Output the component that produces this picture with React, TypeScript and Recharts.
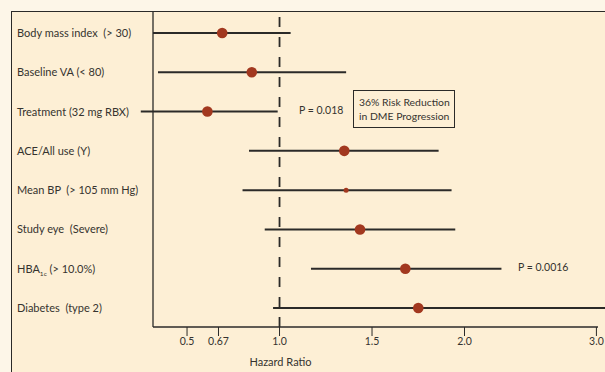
import React from "react";
import { ScatterChart, Scatter, XAxis, YAxis, ReferenceLine, Label } from "recharts";

const factors = [
  "Body mass index  (> 30)",
  "Baseline VA (< 80)",
  "Treatment (32 mg RBX)",
  "ACE/All use (Y)",
  "Mean BP  (> 105 mm Hg)",
  "Study eye  (Severe)",
  "HBA1c (> 10.0%)",
  "Diabetes  (type 2)",
];
const hazard = [0.69, 0.85, 0.61, 1.35, 1.36, 1.435, 1.68, 1.75];
const lower = [0.316, 0.343, 0.25, 0.835, 0.8, 0.92, 1.17, 0.965];
const upper = [1.06, 1.36, 0.99, 1.86, 1.93, 1.95, 2.28, 3.3];
const tickLabels = [0.5, 0.67, 1.0, 1.5, 2.0, 3.0];

// the axis is linear up to 2.0 and compressed above it
const toPos = (v: number) => (v <= 2 ? v : 2 + (v - 2) * 0.713);

const points = factors.map((name, i) => ({ name, row: i, pos: toPos(hazard[i]) }));

const INK = "#2b2a28";
const TEXT = "#35332f";
const DOT = "#a2381f";

const FactorTick = (props: any) => {
  const { y, payload } = props;
  const name = factors[payload.value];
  if (name === undefined) return null;
  if (name.startsWith("HBA1c")) {
    return (
      <text x={17} y={y} dy={4} fill={TEXT} fontSize={11} textAnchor="start">
        HBA
        <tspan fontSize={6.5} dy={3}>1c</tspan>
        <tspan dy={-3}> (&gt; 10.0%)</tspan>
      </text>
    );
  }
  return (
    <text x={17} y={y} dy={4} fill={TEXT} fontSize={11} textAnchor="start" style={{ whiteSpace: "pre" }}>
      {name}
    </text>
  );
};

const Dot = (props: any) => {
  const { cx, cy, payload } = props;
  const r = payload.name.startsWith("Mean BP") ? 2.5 : 5.3;
  return <circle cx={cx} cy={cy} r={r} fill={DOT} />;
};

export default function App() {
  return (
    <div
      style={{
        position: "fixed",
        left: 0,
        top: 0,
        width: 605,
        height: 372,
        overflow: "hidden",
        background: "#fdf6e8",
        fontFamily: "Lato, sans-serif",
      }}
    >
      <div
        style={{
          position: "absolute",
          left: 11,
          top: 11,
          width: 700,
          height: 420,
          background: "#fdefd5",
          borderTop: `1.5px solid ${INK}`,
          borderLeft: `1.5px solid ${INK}`,
        }}
      />
      <div style={{ position: "absolute", left: 0, top: 0 }}>
        <ScatterChart width={700} height={372} margin={{ top: 12, right: 102, bottom: 0, left: 0 }}>
          <XAxis
            type="number"
            dataKey="pos"
            domain={[0.316, 2.7216]}
            allowDataOverflow
            ticks={tickLabels.map(toPos)}
            tickFormatter={(v: number) => {
              const i = tickLabels.map(toPos).findIndex((t) => Math.abs(t - v) < 1e-6);
              return i >= 0 ? tickLabels[i].toFixed(i === 1 ? 2 : 1) : "";
            }}
            height={45}
            tickSize={9}
            tick={{ fill: TEXT, fontSize: 10.5 }}
            tickLine={{ stroke: INK }}
            axisLine={{ stroke: INK, strokeWidth: 1.3 }}
          >
            <Label value="Hazard Ratio" position="insideBottom" dx={-95} offset={6} fill={TEXT} fontSize={11} />
          </XAxis>
          <YAxis
            type="number"
            dataKey="row"
            reversed
            domain={[-0.534, 7.483]}
            allowDataOverflow
            ticks={factors.map((_, i) => i)}
            interval={0}
            width={153}
            tick={<FactorTick />}
            tickLine={false}
            axisLine={{ stroke: INK, strokeWidth: 1.3 }}
          />
          <ReferenceLine x={1} stroke={INK} strokeWidth={1.8} strokeDasharray="10 10" />
          {factors.map((name, i) => (
            <ReferenceLine
              key={name}
              ifOverflow="visible"
              stroke={INK}
              strokeWidth={2}
              segment={[
                { x: toPos(lower[i]), y: i },
                { x: toPos(upper[i]), y: i },
              ]}
            />
          ))}
          <Scatter data={points} shape={<Dot />} isAnimationActive={false} />
        </ScatterChart>
      </div>
      <div style={{ position: "absolute", left: 299, top: 104, fontSize: 10.5, color: TEXT }}>P = 0.018</div>
      <div
        style={{
          position: "absolute",
          left: 353,
          top: 90,
          width: 102,
          height: 38,
          border: `1px solid ${INK}`,
          boxSizing: "border-box",
          fontSize: 10.4,
          lineHeight: "14px",
          color: TEXT,
          padding: "4px 0 0 5px",
        }}
      >
        36% Risk Reduction
        <br />
        in DME Progression
      </div>
      <div style={{ position: "absolute", left: 518, top: 261, fontSize: 10.5, color: TEXT }}>P = 0.0016</div>
    </div>
  );
}
